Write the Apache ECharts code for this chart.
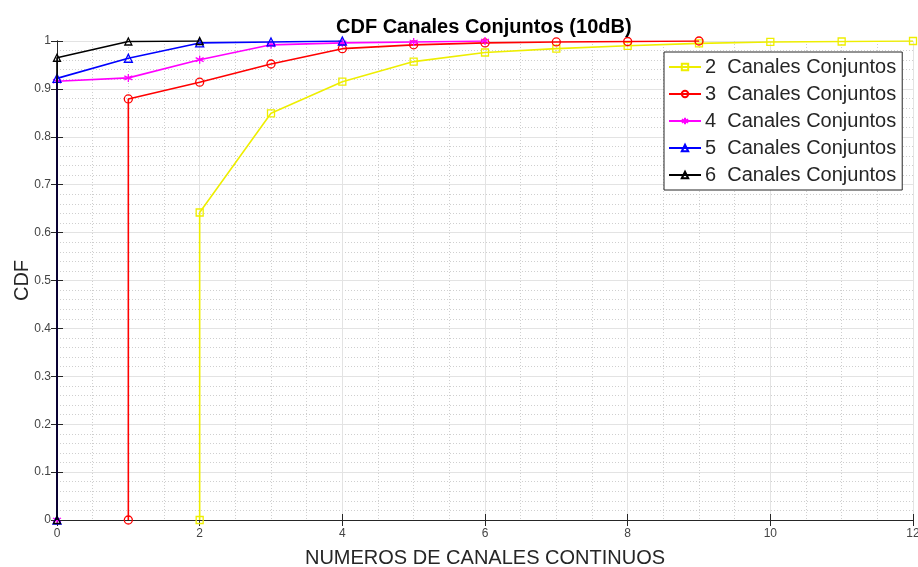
<!DOCTYPE html>
<html>
<head>
<meta charset="utf-8">
<script src="https://cdn.jsdelivr.net/npm/echarts@6/dist/echarts.min.js"></script>
<style>
  html, body { margin: 0; padding: 0; background: #fff; }
  #main { width: 918px; height: 567px; }
</style>
</head>
<body>
<div id="main"></div>
<script>
// CDF values
const x2 = [2, 2, 3, 4, 5, 6, 7, 8, 9, 10, 11, 12];
const y2 = [0, 0.642, 0.849, 0.915, 0.957, 0.976, 0.984, 0.990, 0.995, 0.998, 0.999, 1.0];
const x3 = [1, 1, 2, 3, 4, 5, 6, 7, 8, 9];
const y3 = [0, 0.879, 0.914, 0.952, 0.984, 0.992, 0.996, 0.998, 0.999, 1.0];
const x4 = [0, 0, 1, 2, 3, 4, 5, 6];
const y4 = [0, 0.916, 0.923, 0.961, 0.992, 0.996, 0.998, 1.0];
const x5 = [0, 0, 1, 2, 3, 4];
const y5 = [0, 0.922, 0.964, 0.996, 0.998, 1.0];
const x6 = [0, 0, 1, 2];
const y6 = [0, 0.965, 0.999, 1.0];

const names = ['2  Canales Conjuntos', '3  Canales Conjuntos', '4  Canales Conjuntos',
  '5  Canales Conjuntos', '6  Canales Conjuntos'];
const colors = ['#eeee00', '#ff0000', '#ff00ff', '#0000ff', '#000000'];
const star = 'path://M0,-5L0,5M-4.3,-2.5L4.3,2.5M-4.3,2.5L4.3,-2.5';
const symbols = ['rect', 'circle', star, 'triangle', 'triangle'];
const sizes = [7, 8, 8, 8, 7];

const xs = [x2, x3, x4, x5, x6];
const ys = [y2, y3, y4, y5, y6];

const axisColor = '#262626';
const font = '"Liberation Sans", Arial, Helvetica, sans-serif';

function pairs(a, b) {
  return a.map((v, i) => [v, b[i]]);
}

const series = names.map((n, i) => ({
  name: n,
  type: 'line',
  data: pairs(xs[i], ys[i]),
  symbol: symbols[i],
  symbolSize: sizes[i],
  showAllSymbol: true,
  lineStyle: { color: colors[i], width: 1.6 },
  itemStyle: { color: 'rgba(0,0,0,0)', borderColor: colors[i], borderWidth: 1.3 },
  z: 3 + i,
}));

const chart = echarts.init(document.getElementById('main'));
chart.setOption({
  animation: false,
  backgroundColor: '#fff',
  title: {
    text: 'CDF Canales Conjuntos (10dB)',
    left: 336,
    top: 17,
    padding: 0,
    textStyle: { fontFamily: font, fontSize: 20, fontWeight: 'bold', color: '#000' },
  },
  grid: { left: 57, right: 5, top: 41, bottom: 47, outerBoundsMode: 'none', containLabel: false },
  legend: {
    orient: 'vertical',
    left: 664,
    top: 52,
    padding: [5, 6, 5, 4],
    itemWidth: 32,
    itemHeight: 8,
    itemGap: 7,
    backgroundColor: '#fff',
    borderColor: axisColor,
    borderWidth: 1,
    borderRadius: 0,
    textStyle: { fontFamily: font, fontSize: 20, color: axisColor, padding: [0, 0, 0, -1] },
    data: names,
  },
  xAxis: [
    {
      type: 'value',
      min: 0,
      max: 12,
      interval: 2,
      name: 'NUMEROS DE CANALES CONTINUOS',
      nameLocation: 'middle',
      nameGap: 28,
      nameMoveOverlap: false,
      nameTextStyle: { fontFamily: font, fontSize: 20, color: axisColor },
      axisLine: { show: true, lineStyle: { color: axisColor, width: 1 } },
      axisTick: { show: true, inside: true, length: 6, lineStyle: { color: axisColor } },
      axisLabel: { fontFamily: font, fontSize: 12, color: '#444', margin: 8 },
      splitLine: { show: true, lineStyle: { color: '#e3e3e3', width: 1 } },
      minorTick: { show: false, splitNumber: 4 },
      minorSplitLine: { show: true, lineStyle: { color: '#cfcfcf', width: 1, type: [1, 2] } },
    },
    {
      type: 'value',
      position: 'top',
      min: 0,
      max: 12,
      interval: 2,
      axisLine: { show: true, lineStyle: { color: axisColor, width: 1 } },
      axisTick: { show: true, inside: true, length: 6, lineStyle: { color: axisColor } },
      axisLabel: { show: false },
      splitLine: { show: false },
    },
  ],
  yAxis: [
    {
      type: 'value',
      min: 0,
      max: 1,
      interval: 0.1,
      name: 'CDF',
      nameLocation: 'middle',
      nameGap: 25,
      nameMoveOverlap: false,
      nameTextStyle: { fontFamily: font, fontSize: 20, color: axisColor },
      axisLine: { show: true, lineStyle: { color: axisColor, width: 1 } },
      axisTick: { show: true, inside: true, length: 6, lineStyle: { color: axisColor } },
      axisLabel: { fontFamily: font, fontSize: 12, color: '#444', margin: 6 },
      splitLine: { show: true, lineStyle: { color: '#e3e3e3', width: 1 } },
      minorTick: { show: false, splitNumber: 5 },
      minorSplitLine: { show: true, lineStyle: { color: '#cfcfcf', width: 1, type: [1, 2] } },
    },
    {
      type: 'value',
      position: 'right',
      min: 0,
      max: 1,
      interval: 0.1,
      axisLine: { show: true, lineStyle: { color: axisColor, width: 1 } },
      axisTick: { show: true, inside: true, length: 6, lineStyle: { color: axisColor } },
      axisLabel: { show: false },
      splitLine: { show: false },
    },
  ],
  series: series,
});
</script>
</body>
</html>
